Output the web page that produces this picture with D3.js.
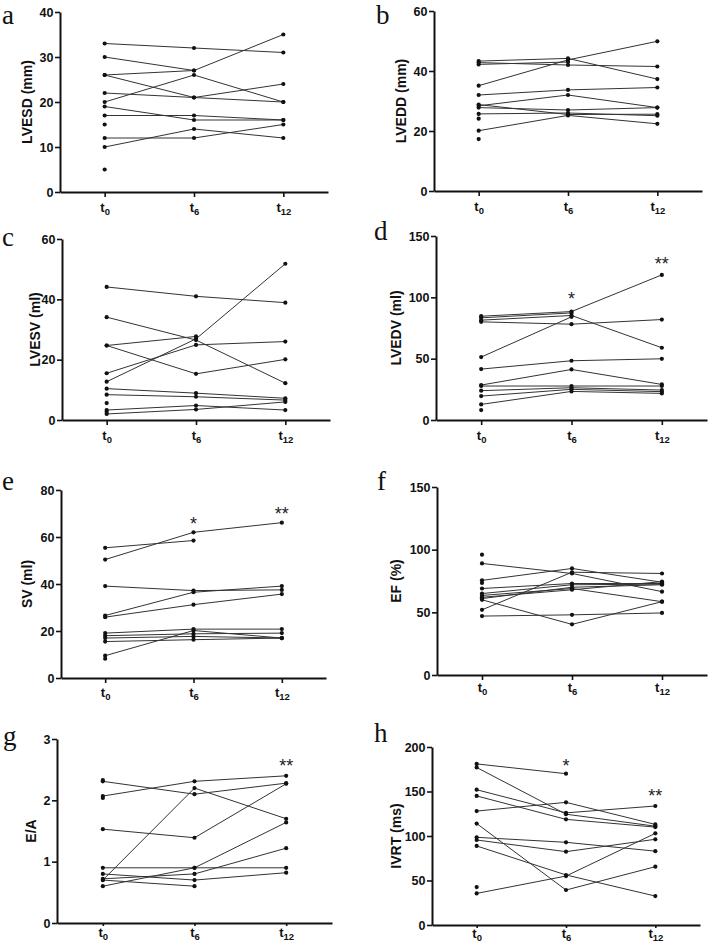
<!DOCTYPE html>
<html><head><meta charset="utf-8">
<script src="https://cdn.jsdelivr.net/npm/d3@7"></script>
<style>
html,body{margin:0;padding:0;background:#fff;}
svg{display:block;}
</style></head>
<body>
<svg id="chart" width="709" height="947"></svg>
<script>
// time points (subscripts of t)
const timePoints = ["0", "6", "12"];

// each row = one subject: values at t0, t6, t12 (null = missing)
const lvesd = [[33,32,31],[30,27,null],[26,27,35],[20,26,20],[26,21,20],[22,21,24],[19,16,16],[17,17,16],[12,12,15],[10,14,12],[15,null,null],[5,null,null]];
const lvedd = [[35.1,43.7,49.9],[43.3,44.2,37.3],[42.8,42.0,41.5],[42.2,43.0,null],[32.0,33.7,34.5],[28.4,32.0,27.8],[27.8,27.0,27.8],[28.8,25.5,25.6],[25.7,26.0,25.1],[20.1,25.2,22.4],[24.1,null,null],[17.3,null,null]];
const lvesv = [[44.1,41.0,38.9],[34.1,26.5,12.2],[12.7,26.9,51.8],[15.5,24.9,26.0],[24.7,27.7,null],[24.7,15.3,20.1],[10.4,8.9,7.2],[8.4,7.7,6.6],[3.3,4.8,3.3],[2.0,3.5,6.0],[5.6,null,null],[2.7,null,null]];
const lvedv = [[84.6,88.4,118.3],[83.3,87.3,null],[81.4,85.2,58.9],[80.0,78.1,81.9],[51.3,84.1,null],[41.5,48.3,49.9],[28.5,41.2,29.0],[27.7,27.7,27.7],[23.9,26.3,24.4],[19.5,25.0,23.1],[12.7,23.3,21.7],[8.1,null,null]];
const sv = [[55.4,58.5,null],[50.4,62.0,66.1],[39.1,37.2,37.5],[26.6,36.5,39.1],[25.9,31.2,35.7],[19.1,20.8,20.8],[18.0,18.8,19.1],[17.0,17.7,17.0],[15.5,16.3,17.0],[9.5,20.2,17.0],[8.2,null,null]];
const ef = [[89,81,66.5],[75.5,85,74],[52,82,81],[60,40.4,58.5],[47,48,49.5],[69,73,73],[65,72,72.5],[63.5,69,58.5],[62,68,74.5],[61,70,72],[96,null,null],[73.5,null,null]];
const ea = [[2.31,2.10,2.28],[2.07,2.31,2.40],[1.53,1.39,2.27],[0.70,2.20,1.70],[0.90,0.90,0.90],[0.60,0.90,1.64],[0.72,0.80,1.22],[0.80,0.70,0.82],[0.70,0.60,null],[2.04,null,null],[2.33,null,null]];
const ivrt = [[181,170,null],[177,124.5,111],[152,126,133.7],[145,118.7,110],[128,137.8,113],[114,39.3,65.5],[98.5,92.9,83],[95.5,82.4,96.3],[88.8,56.2,32.5],[35.5,55,103],[42.6,null,null]];

// y-axis ticks
const ticksA = [0,10,20,30,40];
const ticksB = [0,20,40,60];
const ticksC = [0,20,40,60];
const ticksD = [0,50,100,150];
const ticksE = [0,20,40,60,80];
const ticksF = [0,50,100,150];
const ticksG = [0,1,2,3];
const ticksH = [0,50,100,150,200];

// panel letters, axis titles, significance marks (per time point)
const letters = ["a","b","c","d","e","f","g","h"];
const titles = ["LVESD (mm)","LVEDD (mm)","LVESV (ml)","LVEDV (ml)","SV (ml)","EF (%)","E/A","IVRT (ms)"];
const sigMarks = [["","",""],["","",""],["","",""],["","*","**"],["","*","**"],["","",""],["","","**"],["","*","**"]];

const datasets = [lvesd, lvedd, lvesv, lvedv, sv, ef, ea, ivrt];
const tickSets = [ticksA, ticksB, ticksC, ticksD, ticksE, ticksF, ticksG, ticksH];

// layout (pixels)
const layout = [
  {x0:60,  x1:328, yTop:12,  yBot:192, titleX:27,  lx:2,   ly:24,  xLab:20, xTick:5, sigY:[0,0,0]},
  {x0:434, x1:702, yTop:11,  yBot:191, titleX:401, lx:376, ly:24,  xLab:20, xTick:5, sigY:[0,0,0]},
  {x0:62,  x1:330, yTop:239, yBot:420, titleX:35,  lx:2,   ly:246, xLab:20, xTick:5, sigY:[0,0,0]},
  {x0:436, x1:707, yTop:236, yBot:420, titleX:396, lx:374, ly:240, xLab:20, xTick:5, sigY:[0,295,260]},
  {x0:61,  x1:326, yTop:490, yBot:678, titleX:27,  lx:2,   ly:490, xLab:19, xTick:5, sigY:[0,520,510]},
  {x0:437, x1:707, yTop:487, yBot:675, titleX:396, lx:377, ly:490, xLab:17, xTick:5, sigY:[0,0,0]},
  {x0:57,  x1:332, yTop:739, yBot:923, titleX:31,  lx:3,   ly:745, xLab:14, xTick:3, sigY:[0,0,762]},
  {x0:432, x1:700, yTop:747, yBot:925, titleX:396, lx:374, ly:742, xLab:13, xTick:3, sigY:[0,762,792]}
];

const svg = d3.select("#chart");
const FONT = "'Liberation Sans', Arial, sans-serif";

datasets.forEach((data, i) => {
  const L = layout[i];
  const ticks = tickSets[i];
  const x = d3.scalePoint().domain([0,1,2]).range([L.x0, L.x1]).padding(0.5);
  const y = d3.scaleLinear().domain([0, ticks[ticks.length-1]]).range([L.yBot, L.yTop]);
  const g = svg.append("g");

  // y axis
  const ya = g.append("g").attr("transform", `translate(${L.x0},0)`)
    .call(d3.axisLeft(y).tickValues(ticks).tickSize(5).tickSizeOuter(0).tickPadding(1.5).tickFormat(d3.format("d")));
  ya.select(".domain").attr("stroke","#111").attr("stroke-width",2);
  ya.selectAll(".tick line").attr("stroke","#111").attr("stroke-width",1.6);
  ya.selectAll(".tick text").attr("font-family",FONT).attr("font-weight","bold").attr("font-size","12.5px").attr("fill","#111");

  // x axis
  const xa = g.append("g").attr("transform", `translate(0,${L.yBot})`)
    .call(d3.axisBottom(x).tickSize(L.xTick).tickSizeOuter(0).tickPadding(6));
  xa.select(".domain").attr("stroke","#111").attr("stroke-width",2);
  xa.selectAll(".tick line").attr("stroke","#111").attr("stroke-width",1.6);
  xa.selectAll(".tick text").each(function(d){
    const t = d3.select(this);
    t.text(null).attr("y", L.xLab).attr("dy", 0)
      .attr("font-family",FONT).attr("font-weight","bold").attr("font-size","13px").attr("fill","#111");
    t.append("tspan").text("t");
    t.append("tspan").attr("dy","2.5").attr("font-size","9.5px").text(timePoints[d]);
  });

  // y title
  g.append("text")
    .attr("transform", `translate(${L.titleX},${(L.yTop+L.yBot)/2}) rotate(-90)`)
    .attr("text-anchor","middle").attr("dominant-baseline","central")
    .attr("font-family",FONT).attr("font-weight","bold").attr("font-size","14px").attr("fill","#111")
    .text(titles[i]);

  // panel letter
  g.append("text").attr("x",L.lx).attr("y",L.ly)
    .attr("font-family","'Liberation Serif', 'Times New Roman', serif").attr("font-size","27px").attr("fill","#111")
    .text(letters[i]);

  // subject lines
  const line = d3.line().defined(d => d[1] !== null).x(d => x(d[0])).y(d => y(d[1]));
  data.forEach(row => {
    const pts = row.map((v,k) => [k,v]);
    g.append("path").attr("d", line(pts)).attr("fill","none").attr("stroke","#333").attr("stroke-width",1);
    pts.filter(p => p[1] !== null).forEach(p => {
      g.append("circle").attr("cx", x(p[0])).attr("cy", y(p[1])).attr("r", 2.1).attr("fill","#111");
    });
  });

  // significance marks
  sigMarks[i].forEach((s,k) => {
    if (!s) return;
    g.append("text").attr("x", x(k)).attr("y", L.sigY[k] + 10)
      .attr("text-anchor","middle").attr("font-family",FONT).attr("font-size","18px").attr("fill","#222")
      .text(s);
  });
});
</script>
</body></html>
